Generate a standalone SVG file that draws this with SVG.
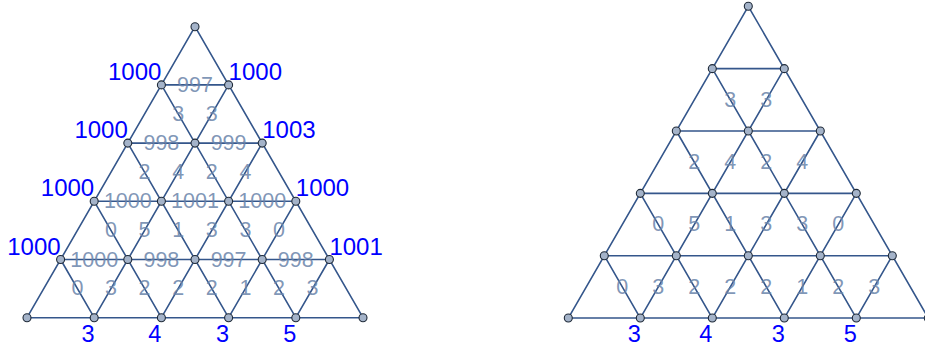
<svg xmlns="http://www.w3.org/2000/svg" width="925" height="351" viewBox="0 0 925 351">
<style>
.e{stroke:#34568b;stroke-width:1.6;fill:none;stroke-linecap:round}
.n{fill:#a4b3c9;stroke:#1f2a38;stroke-width:1.1}
.g{font-family:"Liberation Sans",Arial,sans-serif;font-size:21.5px;fill:#6a84aa;fill-opacity:0.85;text-anchor:middle}
.d{dominant-baseline:central}
.bl{font-family:"Liberation Sans",Arial,sans-serif;font-size:24px;fill:#0000ff}
.bb{font-family:"Liberation Sans",Arial,sans-serif;font-size:23.5px;fill:#0000ff;text-anchor:end}
.l{text-anchor:end}
</style>
<rect width="925" height="351" fill="#ffffff"/>
<g id="connectors">
<g id="left-edges">
<line class="e" x1="27" y1="317.7" x2="195" y2="26.7"/>
<line class="e" x1="94.2" y1="317.7" x2="228.6" y2="84.9"/>
<line class="e" x1="161.4" y1="317.7" x2="262.2" y2="143.1"/>
<line class="e" x1="228.6" y1="317.7" x2="295.8" y2="201.3"/>
<line class="e" x1="295.8" y1="317.7" x2="329.4" y2="259.5"/>
<line class="e" x1="94.2" y1="317.7" x2="60.6" y2="259.5"/>
<line class="e" x1="161.4" y1="317.7" x2="94.2" y2="201.3"/>
<line class="e" x1="228.6" y1="317.7" x2="127.8" y2="143.1"/>
<line class="e" x1="295.8" y1="317.7" x2="161.4" y2="84.9"/>
<line class="e" x1="363" y1="317.7" x2="195" y2="26.7"/>
<line class="e" x1="161.4" y1="84.9" x2="228.6" y2="84.9"/>
<line class="e" x1="127.8" y1="143.1" x2="262.2" y2="143.1"/>
<line class="e" x1="94.2" y1="201.3" x2="295.8" y2="201.3"/>
<line class="e" x1="60.6" y1="259.5" x2="329.4" y2="259.5"/>
<line class="e" x1="27" y1="317.7" x2="363" y2="317.7"/>
</g>
<g id="right-edges">
<line class="e" x1="568.3" y1="318.05" x2="748.3" y2="6.3"/>
<line class="e" x1="640.3" y1="318.05" x2="784.3" y2="68.65"/>
<line class="e" x1="712.3" y1="318.05" x2="820.3" y2="131"/>
<line class="e" x1="784.3" y1="318.05" x2="856.3" y2="193.35"/>
<line class="e" x1="856.3" y1="318.05" x2="892.3" y2="255.7"/>
<line class="e" x1="640.3" y1="318.05" x2="604.3" y2="255.7"/>
<line class="e" x1="712.3" y1="318.05" x2="640.3" y2="193.35"/>
<line class="e" x1="784.3" y1="318.05" x2="676.3" y2="131"/>
<line class="e" x1="856.3" y1="318.05" x2="712.3" y2="68.65"/>
<line class="e" x1="928.3" y1="318.05" x2="748.3" y2="6.3"/>
<line class="e" x1="712.3" y1="68.65" x2="784.3" y2="68.65"/>
<line class="e" x1="676.3" y1="131" x2="820.3" y2="131"/>
<line class="e" x1="640.3" y1="193.35" x2="856.3" y2="193.35"/>
<line class="e" x1="604.3" y1="255.7" x2="892.3" y2="255.7"/>
<line class="e" x1="568.3" y1="318.05" x2="928.3" y2="318.05"/>
</g>
</g>
<g id="left-edge-labels">
<text class="g" x="195" y="92">997</text>
<text class="g" x="161.4" y="150.2">998</text>
<text class="g" x="228.6" y="150.2">999</text>
<text class="g" x="127.8" y="208.4">1000</text>
<text class="g" x="195" y="208.4">1001</text>
<text class="g" x="262.2" y="208.4">1000</text>
<text class="g" x="94.2" y="266.6">1000</text>
<text class="g" x="161.4" y="266.6">998</text>
<text class="g" x="228.6" y="266.6">997</text>
<text class="g" x="295.8" y="266.6">998</text>
<text class="g d" x="178.2" y="113.5">3</text>
<text class="g d" x="211.8" y="113.5">3</text>
<text class="g d" x="144.6" y="171.7">2</text>
<text class="g d" x="178.2" y="171.7">4</text>
<text class="g d" x="211.8" y="171.7">2</text>
<text class="g d" x="245.4" y="171.7">4</text>
<text class="g d" x="111" y="229.9">0</text>
<text class="g d" x="144.6" y="229.9">5</text>
<text class="g d" x="178.2" y="229.9">1</text>
<text class="g d" x="211.8" y="229.9">3</text>
<text class="g d" x="245.4" y="229.9">3</text>
<text class="g d" x="279" y="229.9">0</text>
<text class="g d" x="77.4" y="288.1">0</text>
<text class="g d" x="111" y="288.1">3</text>
<text class="g d" x="144.6" y="288.1">2</text>
<text class="g d" x="178.2" y="288.1">2</text>
<text class="g d" x="211.8" y="288.1">2</text>
<text class="g d" x="245.4" y="288.1">1</text>
<text class="g d" x="279" y="288.1">2</text>
<text class="g d" x="312.6" y="288.1">3</text>
</g>
<g id="right-edge-labels">
<text class="g d" x="730.3" y="99.5">3</text>
<text class="g d" x="766.3" y="99.5">3</text>
<text class="g d" x="694.3" y="161.9">2</text>
<text class="g d" x="730.3" y="161.9">4</text>
<text class="g d" x="766.3" y="161.9">2</text>
<text class="g d" x="802.3" y="161.9">4</text>
<text class="g d" x="658.3" y="224.2">0</text>
<text class="g d" x="694.3" y="224.2">5</text>
<text class="g d" x="730.3" y="224.2">1</text>
<text class="g d" x="766.3" y="224.2">3</text>
<text class="g d" x="802.3" y="224.2">3</text>
<text class="g d" x="838.3" y="224.2">0</text>
<text class="g d" x="622.3" y="286.6">0</text>
<text class="g d" x="658.3" y="286.6">3</text>
<text class="g d" x="694.3" y="286.6">2</text>
<text class="g d" x="730.3" y="286.6">2</text>
<text class="g d" x="766.3" y="286.6">2</text>
<text class="g d" x="802.3" y="286.6">1</text>
<text class="g d" x="838.3" y="286.6">2</text>
<text class="g d" x="874.3" y="286.6">3</text>
</g>
<g id="left-nodes">
<g id="L0-0"><circle class="n" cx="195" cy="26.7" r="4"/></g>
<g id="L1-0"><circle class="n" cx="161.4" cy="84.9" r="4"/><text class="bl l" x="161.4" y="80">1000</text></g>
<g id="L1-1"><circle class="n" cx="228.6" cy="84.9" r="4"/><text class="bl" x="228.6" y="80">1000</text></g>
<g id="L2-0"><circle class="n" cx="127.8" cy="143.1" r="4"/><text class="bl l" x="127.8" y="138.1">1000</text></g>
<g id="L2-1"><circle class="n" cx="195" cy="143.1" r="4"/></g>
<g id="L2-2"><circle class="n" cx="262.2" cy="143.1" r="4"/><text class="bl" x="262.2" y="138.1">1003</text></g>
<g id="L3-0"><circle class="n" cx="94.2" cy="201.3" r="4"/><text class="bl l" x="94.2" y="196.3">1000</text></g>
<g id="L3-1"><circle class="n" cx="161.4" cy="201.3" r="4"/></g>
<g id="L3-2"><circle class="n" cx="228.6" cy="201.3" r="4"/></g>
<g id="L3-3"><circle class="n" cx="295.8" cy="201.3" r="4"/><text class="bl" x="295.8" y="196.3">1000</text></g>
<g id="L4-0"><circle class="n" cx="60.6" cy="259.5" r="4"/><text class="bl l" x="60.6" y="254.5">1000</text></g>
<g id="L4-1"><circle class="n" cx="127.8" cy="259.5" r="4"/></g>
<g id="L4-2"><circle class="n" cx="195" cy="259.5" r="4"/></g>
<g id="L4-3"><circle class="n" cx="262.2" cy="259.5" r="4"/></g>
<g id="L4-4"><circle class="n" cx="329.4" cy="259.5" r="4"/><text class="bl" x="329.4" y="254.5">1001</text></g>
<g id="L5-0"><circle class="n" cx="27" cy="317.7" r="4"/></g>
<g id="L5-1"><circle class="n" cx="94.2" cy="317.7" r="4"/><text class="bb" x="94.7" y="341.5">3</text></g>
<g id="L5-2"><circle class="n" cx="161.4" cy="317.7" r="4"/><text class="bb" x="161.4" y="341.5">4</text></g>
<g id="L5-3"><circle class="n" cx="228.6" cy="317.7" r="4"/><text class="bb" x="229.1" y="341.5">3</text></g>
<g id="L5-4"><circle class="n" cx="295.8" cy="317.7" r="4"/><text class="bb" x="296.3" y="341.5">5</text></g>
<g id="L5-5"><circle class="n" cx="363" cy="317.7" r="4"/></g>
</g>
<g id="right-nodes">
<g id="R0-0"><circle class="n" cx="748.3" cy="6.3" r="4"/></g>
<g id="R1-0"><circle class="n" cx="712.3" cy="68.65" r="4"/></g>
<g id="R1-1"><circle class="n" cx="784.3" cy="68.65" r="4"/></g>
<g id="R2-0"><circle class="n" cx="676.3" cy="131" r="4"/></g>
<g id="R2-1"><circle class="n" cx="748.3" cy="131" r="4"/></g>
<g id="R2-2"><circle class="n" cx="820.3" cy="131" r="4"/></g>
<g id="R3-0"><circle class="n" cx="640.3" cy="193.35" r="4"/></g>
<g id="R3-1"><circle class="n" cx="712.3" cy="193.35" r="4"/></g>
<g id="R3-2"><circle class="n" cx="784.3" cy="193.35" r="4"/></g>
<g id="R3-3"><circle class="n" cx="856.3" cy="193.35" r="4"/></g>
<g id="R4-0"><circle class="n" cx="604.3" cy="255.7" r="4"/></g>
<g id="R4-1"><circle class="n" cx="676.3" cy="255.7" r="4"/></g>
<g id="R4-2"><circle class="n" cx="748.3" cy="255.7" r="4"/></g>
<g id="R4-3"><circle class="n" cx="820.3" cy="255.7" r="4"/></g>
<g id="R4-4"><circle class="n" cx="892.3" cy="255.7" r="4"/></g>
<g id="R5-0"><circle class="n" cx="568.3" cy="318.05" r="4"/></g>
<g id="R5-1"><circle class="n" cx="640.3" cy="318.05" r="4"/><text class="bb" x="640.8" y="341.5">3</text></g>
<g id="R5-2"><circle class="n" cx="712.3" cy="318.05" r="4"/><text class="bb" x="712.3" y="341.5">4</text></g>
<g id="R5-3"><circle class="n" cx="784.3" cy="318.05" r="4"/><text class="bb" x="784.8" y="341.5">3</text></g>
<g id="R5-4"><circle class="n" cx="856.3" cy="318.05" r="4"/><text class="bb" x="856.8" y="341.5">5</text></g>
<g id="R5-5"><circle class="n" cx="928.3" cy="318.05" r="4"/></g>
</g>
</svg>
